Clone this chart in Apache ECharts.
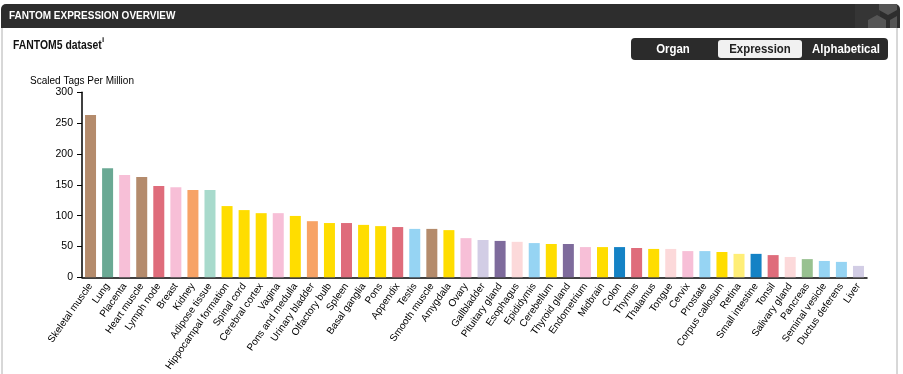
<!DOCTYPE html>
<html>
<head>
<meta charset="utf-8">
<script src="https://cdn.jsdelivr.net/npm/echarts@6/dist/echarts.min.js"></script>
<style>
html,body{margin:0;padding:0;background:#fff;}
#c{width:903px;height:374px;}
</style>
</head>
<body>
<div id="c"></div>
<script>
var categories = ["Skeletal muscle","Lung","Placenta","Heart muscle","Lymph node","Breast","Kidney","Adipose tissue","Hippocampal formation","Spinal cord","Cerebral cortex","Vagina","Pons and medulla","Urinary bladder","Olfactory bulb","Spleen","Basal ganglia","Pons","Appendix","Testis","Smooth muscle","Amygdala","Ovary","Gallbladder","Pituitary gland","Esophagus","Epididymis","Cerebellum","Thyroid gland","Endometrium","Midbrain","Colon","Thymus","Thalamus","Tongue","Cervix","Prostate","Corpus callosum","Retina","Small intestine","Tonsil","Salivary gland","Pancreas","Seminal vesicle","Ductus deferens","Liver"];
var values = [263,177,166,162.5,148,146,141.5,141.5,115.5,109,104,104,99.5,91,88,88,85,83,81.5,78.5,78.5,76.5,63.5,60.5,59,57.5,55.5,54,54,49,49,49,47.5,46,46,42.5,42.5,41,38,38,36,33,29.5,26.5,25,18.5];
var yTicks = [0,50,100,150,200,250,300];
var buttonLabels = ["Organ","Expression","Alphabetical"];

var palette = {
  brown:"#b48b6c", teal:"#6aa994", pink:"#f7bfd7", red:"#df6c7b", orange:"#f7a366",
  mint:"#a8dacc", yellow:"#ffdd00", lblue:"#96d4f3", lav:"#d2cde5", purple:"#7e6b9c",
  lpink:"#fcd9da", blue:"#1482c5", lyellow:"#ffee77", green:"#98c190"
};
var colorKeys = ["brown","teal","pink","brown","red","pink","orange","mint","yellow","yellow","yellow","pink","yellow","orange","yellow","red","yellow","yellow","red","lblue","brown","yellow","pink","lav","purple","lpink","lblue","yellow","purple","pink","yellow","blue","red","yellow","lpink","pink","lblue","yellow","lyellow","blue","red","lpink","green","lblue","lblue","lav"];

var chart = echarts.init(document.getElementById('c'), null, {renderer:'canvas'});
var FONT = '"Liberation Sans", Arial, sans-serif';

var btnX = [673, 760, 846];
var graphics = [
  // panel borders
  {type:'rect', shape:{x:2,y:20,width:895,height:370}, style:{fill:'#fff', stroke:'#b0b0b0', lineWidth:1}, silent:true, z:-10},
  // header
  {type:'rect', shape:{x:1,y:4,width:899,height:24,r:[5,5,0,0]}, style:{fill:'#2d2d2d'}, z:-5},
  {type:'rect', shape:{x:855,y:4,width:25,height:24}, style:{fill:'#353535'}, z:-4.5},
  {type:'polygon', shape:{points:[[879,4],[897,4],[897,10],[888,15],[879,10]]}, style:{fill:'#555555'}, z:-4},
  {type:'polygon', shape:{points:[[868,20],[877,15],[886,20],[886,28],[868,28]]}, style:{fill:'#555555'}, z:-4},
  {type:'polygon', shape:{points:[[890,20],[897,16],[897,28],[890,28]]}, style:{fill:'#555555'}, z:-4},
  {type:'text', x:9, y:16, style:{text:'FANTOM EXPRESSION OVERVIEW', font:'bold 10px '+FONT, fill:'#fff', textVerticalAlign:'middle'}},
  // dataset title
  {type:'text', x:13, y:45, scaleX:0.8, style:{text:'FANTOM5 dataset', font:'bold 13px '+FONT, fill:'#111', textVerticalAlign:'middle'}},
  {type:'text', x:102, y:40, style:{text:'i', font:'bold 8px '+FONT, fill:'#111', textVerticalAlign:'middle'}},
  // buttons
  {type:'rect', shape:{x:631,y:38,width:257,height:22,r:4}, style:{fill:'#2b2b2b'}},
  {type:'rect', shape:{x:718,y:40,width:84,height:18,r:3}, style:{fill:'#f1f1f1'}}
];
buttonLabels.forEach(function(t,i){
  graphics.push({type:'text', x:btnX[i], y:49.5, scaleX:0.95,
    style:{text:t, font:'bold 12px '+FONT, fill: i===1 ? '#222' : '#fff', textAlign:'center', textVerticalAlign:'middle'}});
});

chart.setOption({
  animation:false,
  backgroundColor:'transparent',
  graphic: graphics,
  grid:{left:82, right:36, top:92.3, bottom:96.7, containLabel:false},
  xAxis:{
    type:'category',
    data:categories,
    axisLine:{lineStyle:{color:'#000', width:1.5}},
    axisTick:{alignWithLabel:true, length:5, lineStyle:{color:'#555'}},
    axisLabel:{rotate:55, interval:0, fontSize:10, color:'#000', fontFamily:FONT, margin:7}
  },
  yAxis:{
    type:'value',
    min:yTicks[0], max:yTicks[yTicks.length-1], interval:50,
    name:'Scaled Tags Per Million',
    nameLocation:'end',
    nameGap:6,
    nameTextStyle:{fontSize:10, color:'#000', fontFamily:FONT, align:'center', padding:[0,0,0,0]},
    axisLine:{show:true, lineStyle:{color:'#000', width:1.5}},
    axisTick:{show:true, length:5, lineStyle:{color:'#000'}},
    axisLabel:{fontSize:10.5, color:'#000', fontFamily:FONT, margin:9},
    splitLine:{show:false}
  },
  series:[{
    type:'bar',
    data: values.map(function(v,i){ return {value:v, itemStyle:{color:palette[colorKeys[i]]}}; }),
    barWidth:11
  }]
});
</script>
</body>
</html>
